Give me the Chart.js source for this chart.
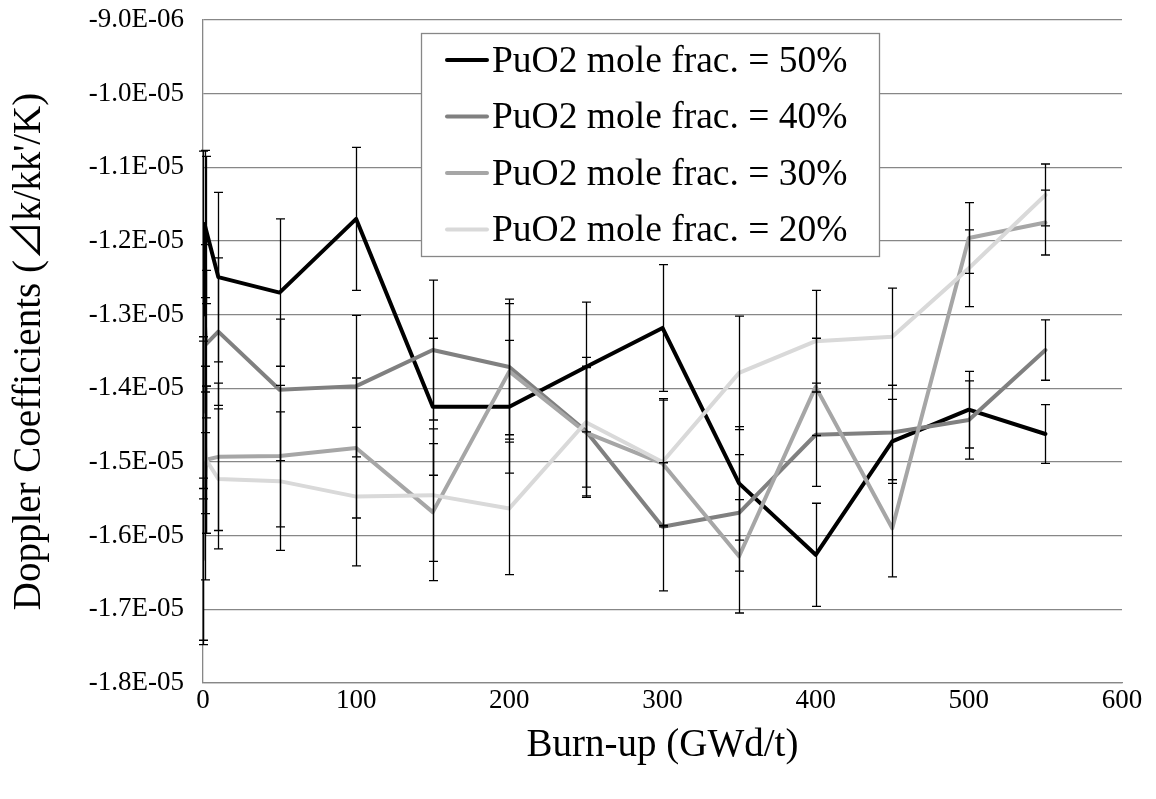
<!DOCTYPE html>
<html>
<head>
<meta charset="utf-8">
<script src="https://cdn.jsdelivr.net/npm/chart.js@4.4.1/dist/chart.umd.min.js"></script>
<style>
    html, body { margin: 0; padding: 0; background: #ffffff; }
    #chart { display: block; }
</style>
</head>
<body>
<canvas id="chart" width="1156" height="799"></canvas>
<script>
// Burn-up steps (GWd/t)
const burnup = [0, 1, 2, 10, 50, 100, 150, 200, 250, 300, 350, 400, 450, 500, 550];

// Doppler coefficients per PuO2 mole fraction
const pu50 = [-1.413e-5, -1.177e-5, -1.185e-5, -1.249e-5, -1.270e-5, -1.170e-5, -1.425e-5, -1.425e-5, -1.371e-5, -1.318e-5, -1.529e-5, -1.626e-5, -1.472e-5, -1.429e-5, -1.462e-5];
const pu40 = [-1.440e-5, -1.305e-5, -1.340e-5, -1.323e-5, -1.402e-5, -1.397e-5, -1.348e-5, -1.371e-5, -1.458e-5, -1.588e-5, -1.569e-5, -1.463e-5, -1.460e-5, -1.443e-5, -1.348e-5];
const pu30 = [-1.632e-5, -1.560e-5, -1.497e-5, -1.493e-5, -1.492e-5, -1.481e-5, -1.568e-5, -1.377e-5, -1.460e-5, -1.502e-5, -1.628e-5, -1.398e-5, -1.590e-5, -1.196e-5, -1.175e-5];
const pu20 = [-1.436e-5, -1.470e-5, -1.497e-5, -1.523e-5, -1.526e-5, -1.547e-5, -1.545e-5, -1.563e-5, -1.446e-5, -1.500e-5, -1.379e-5, -1.336e-5, -1.330e-5, -1.237e-5, -1.1375e-5];

// Error bar half widths
const err50 = [3.35e-6, 1.0e-6, 1.0e-6, 1.15e-6, 1.0e-6, 0.97e-6, 0.93e-6, 0.9e-6, 0.88e-6, 0.86e-6, 0.77e-6, 0.70e-6, 0.57e-6, 0.52e-6, 0.40e-6];
const err40 = [1.1e-6, 1.0e-6, 1.0e-6, 1.0e-6, 0.96e-6, 0.96e-6, 0.95e-6, 0.92e-6, 0.88e-6, 0.87e-6, 0.79e-6, 0.70e-6, 0.64e-6, 0.53e-6, 0.41e-6];
const err30 = [1.1e-6, 1.0e-6, 1.0e-6, 1.0e-6, 0.96e-6, 0.95e-6, 0.93e-6, 0.92e-6, 0.88e-6, 0.86e-6, 0.77e-6, 0.66e-6, 0.66e-6, 0.48e-6, 0.44e-6];
const err20 = [1.0e-6, 1.0e-6, 1.0e-6, 0.95e-6, 0.94e-6, 0.94e-6, 0.90e-6, 0.90e-6, 0.88e-6, 0.86e-6, 0.77e-6, 0.69e-6, 0.66e-6, 0.52e-6, 0.42e-6];

const seriesLabels = ['PuO2 mole frac. = 50%', 'PuO2 mole frac. = 40%', 'PuO2 mole frac. = 30%', 'PuO2 mole frac. = 20%'];
const seriesColors = ['#000000', '#808080', '#a6a6a6', '#d9d9d9'];

const FONT = "'Liberation Serif', 'Times New Roman', 'Noto Sans CJK JP', serif";
const GRID = '#878787';

function sciLabel(v) {
    const parts = Number(v).toExponential(1).split('e');
    const exp = parseInt(parts[1], 10);
    return parts[0] + 'E' + (exp < 0 ? '-' : '+') + String(Math.abs(exp)).padStart(2, '0');
}

function toPoints(ys) {
    return burnup.map((x, i) => ({ x: x, y: ys[i] }));
}

const allValues = [pu50, pu40, pu30, pu20];
const allErrors = [err50, err40, err30, err20];

// Excel draws later series on top, so give the first series the highest order
const datasets = allValues.map((vals, i) => ({
    label: seriesLabels[i],
    data: toPoints(vals),
    borderColor: seriesColors[i],
    backgroundColor: seriesColors[i],
    borderWidth: 4,
    pointRadius: 0,
    tension: 0,
    borderJoinStyle: 'round',
    borderCapStyle: 'round',
    order: allValues.length - i
}));

// Error bars, drawn through the chart's own scales
const errorBarPlugin = {
    id: 'errorBars',
    afterDatasetsDraw(chart) {
        const ctx = chart.ctx;
        const yScale = chart.scales.y;
        ctx.save();
        ctx.strokeStyle = '#000000';
        ctx.lineWidth = 1.3;
        allValues.forEach((vals, i) => {
            const meta = chart.getDatasetMeta(i);
            meta.data.forEach((pt, j) => {
                const x = Math.round(pt.x) + 0.5;
                const top = yScale.getPixelForValue(vals[j] + allErrors[i][j]);
                const bot = yScale.getPixelForValue(vals[j] - allErrors[i][j]);
                ctx.beginPath();
                ctx.moveTo(x, top);
                ctx.lineTo(x, bot);
                ctx.moveTo(x - 4.5, top);
                ctx.lineTo(x + 4.5, top);
                ctx.moveTo(x - 4.5, bot);
                ctx.lineTo(x + 4.5, bot);
                ctx.stroke();
            });
        });
        ctx.restore();
    }
};

// Legend box inside the plot
const boxLegendPlugin = {
    id: 'boxLegend',
    afterDraw(chart) {
        const ctx = chart.ctx;
        const box = { left: 421, top: 33, right: 879, bottom: 256 };
        ctx.save();
        ctx.fillStyle = '#ffffff';
        ctx.fillRect(box.left, box.top, box.right - box.left, box.bottom - box.top);
        ctx.strokeStyle = GRID;
        ctx.lineWidth = 1.3;
        ctx.strokeRect(box.left + 0.5, box.top + 0.5, box.right - box.left, box.bottom - box.top);
        ctx.font = '37.5px ' + FONT;
        ctx.textBaseline = 'middle';
        ctx.textAlign = 'left';
        seriesLabels.forEach((label, i) => {
            const y = 60 + i * 56.5;
            ctx.strokeStyle = seriesColors[i];
            ctx.lineWidth = 4;
            ctx.lineCap = 'round';
            ctx.beginPath();
            ctx.moveTo(447, y);
            ctx.lineTo(487, y);
            ctx.stroke();
            ctx.fillStyle = '#000000';
            ctx.fillText(label, 492, y + 2);
        });
        ctx.restore();
    }
};

new Chart(document.getElementById('chart'), {
    type: 'line',
    data: { datasets: datasets },
    plugins: [errorBarPlugin, boxLegendPlugin],
    options: {
        responsive: false,
        animation: false,
        events: [],
        layout: { padding: { top: 20, right: 34, left: 0, bottom: 0 } },
        plugins: {
            legend: { display: false },
            tooltip: { enabled: false }
        },
        scales: {
            x: {
                type: 'linear',
                min: 0,
                max: 600,
                afterFit: (scale) => { scale.height = 116; },
                ticks: {
                    stepSize: 100,
                    color: '#000000',
                    padding: 2,
                    font: { family: FONT, size: 27 }
                },
                grid: { display: false, drawTicks: false },
                border: { display: true, color: GRID, width: 1.3 },
                title: {
                    display: true,
                    text: 'Burn-up (GWd/t)',
                    color: '#000000',
                    font: { family: FONT, size: 39 },
                    padding: { top: 0, bottom: 30 }
                }
            },
            y: {
                type: 'linear',
                min: -1.8e-5,
                max: -0.9e-5,
                afterFit: (scale) => {
                    scale.width = 203;
                    scale.paddingTop = 0;
                    scale.paddingBottom = 0;
                },
                ticks: {
                    stepSize: 1e-6,
                    color: '#000000',
                    padding: 19,
                    font: { family: FONT, size: 27 },
                    callback: (v) => sciLabel(v)
                },
                grid: { color: GRID, lineWidth: 1.3, drawTicks: false },
                border: { display: true, color: GRID, width: 1.3 },
                title: {
                    display: true,
                    text: 'Doppler Coefficients (\u22BFk/kk\'/K)',
                    color: '#000000',
                    font: { family: FONT, size: 39 },
                    padding: { top: 6, bottom: 0 }
                }
            }
        }
    }
});
</script>
</body>
</html>
